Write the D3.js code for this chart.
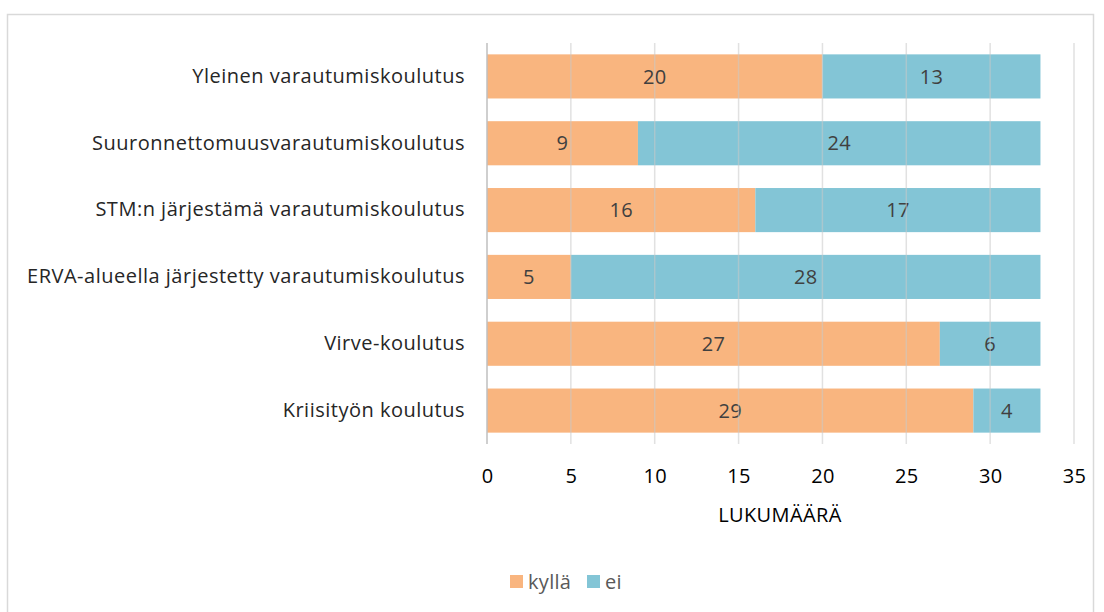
<!DOCTYPE html>
<html>
<head>
<meta charset="utf-8">
<script src="https://cdn.jsdelivr.net/npm/d3@7"></script>
<style>
  body { margin: 0; background: #fff; }
  text { font-family: "Open Sans", sans-serif; }
</style>
</head>
<body>
<div id="chart"></div>
<script>
var categories = ["Yleinen varautumiskoulutus", "Suuronnettomuusvarautumiskoulutus", "STM:n järjestämä varautumiskoulutus",
                  "ERVA-alueella järjestetty varautumiskoulutus", "Virve-koulutus", "Kriisityön koulutus"];
var kylla = [20, 9, 16, 5, 27, 29];
var ei = [13, 24, 17, 28, 6, 4];
var seriesNames = ["kyllä", "ei"];
var seriesColors = ["#f9b57f", "#83c5d6"];
var xTicks = [0, 5, 10, 15, 20, 25, 30, 35];

var fontFam = "'Open Sans', sans-serif";
var fullWidth = 1104, fullHeight = 612;
var margin = {top: 43, left: 487, right: 30, bottom: 168};
var width = 1074 - margin.left;
var height = 444 - margin.top;

var svg = d3.select("#chart").append("svg").attr("width", fullWidth).attr("height", fullHeight);

// outer frame
svg.append("rect").attr("x", 7.5).attr("y", 14.5).attr("width", 1086).attr("height", 620)
   .style("fill", "none").style("stroke", "#d9d9d9").style("stroke-width", 1.5);

var g = svg.append("g").attr("transform", "translate(" + margin.left + "," + margin.top + ")");

var xScale = d3.scaleLinear().domain([0, 35]).range([0, width]);
var yScale = d3.scaleBand().domain(categories).range([0, height]).paddingInner(0.34).paddingOuter(0.17);

var rows = categories.map(function(c, i){ return {cat: c, vals: [kylla[i], ei[i]]}; });

rows.forEach(function(r){
  var x0 = 0;
  r.vals.forEach(function(v, k){
    g.append("rect")
      .attr("x", xScale(x0))
      .attr("y", yScale(r.cat))
      .attr("width", xScale(x0 + v) - xScale(x0))
      .attr("height", yScale.bandwidth())
      .style("fill", seriesColors[k]);
    g.append("text")
      .attr("x", xScale(x0 + v / 2))
      .attr("y", yScale(r.cat) + yScale.bandwidth() / 2)
      .attr("dy", "0.36em")
      .attr("text-anchor", "middle")
      .style("font-size", "20px")
      .style("letter-spacing", "0.3px")
      .style("fill", "#404040")
      .text(v);
    x0 += v;
  });
});

// gridlines drawn over the bars, faint
g.selectAll(".grid").data(xTicks.slice(1)).enter().append("line")
  .attr("x1", function(d){ return xScale(d); }).attr("x2", function(d){ return xScale(d); })
  .attr("y1", 0).attr("y2", height)
  .style("stroke", "#c8c8c8").style("stroke-opacity", 0.55).style("stroke-width", 1.5);

// left axis line
g.append("line").attr("x1", 0).attr("x2", 0).attr("y1", 0).attr("y2", height)
  .style("stroke", "#bfbfbf").style("stroke-width", 1.5);

var xAxis = d3.axisBottom(xScale).tickValues(xTicks).tickSize(0).tickPadding(25);
var ax = g.append("g").attr("transform", "translate(0," + height + ")").call(xAxis);
ax.select(".domain").remove();
ax.selectAll("text").style("font-family", fontFam).style("font-size", "20px")
  .style("letter-spacing", "0.3px").style("fill", "#000");

var yAxis = d3.axisLeft(yScale).tickSize(0).tickPadding(22);
var ay = g.append("g").call(yAxis);
ay.select(".domain").remove();
ay.selectAll("text").style("font-family", fontFam).style("font-size", "20px")
  .style("letter-spacing", "0.5px").style("fill", "#262626");

svg.append("text").attr("x", 780).attr("y", 522).attr("text-anchor", "middle")
  .style("font-size", "20px").style("letter-spacing", "0.4px").style("fill", "#000").text("LUKUMÄÄRÄ");

// legend
var legend = svg.append("g");
var lx = [510, 587];
seriesNames.forEach(function(n, k){
  legend.append("rect").attr("x", lx[k]).attr("y", 575).attr("width", 13).attr("height", 13).style("fill", seriesColors[k]);
  legend.append("text").attr("x", lx[k] + 18).attr("y", 582).attr("dy", "0.36em")
    .style("font-size", "20px").style("letter-spacing", "0.3px").style("fill", "#595959").text(n);
});
</script>
</body>
</html>
